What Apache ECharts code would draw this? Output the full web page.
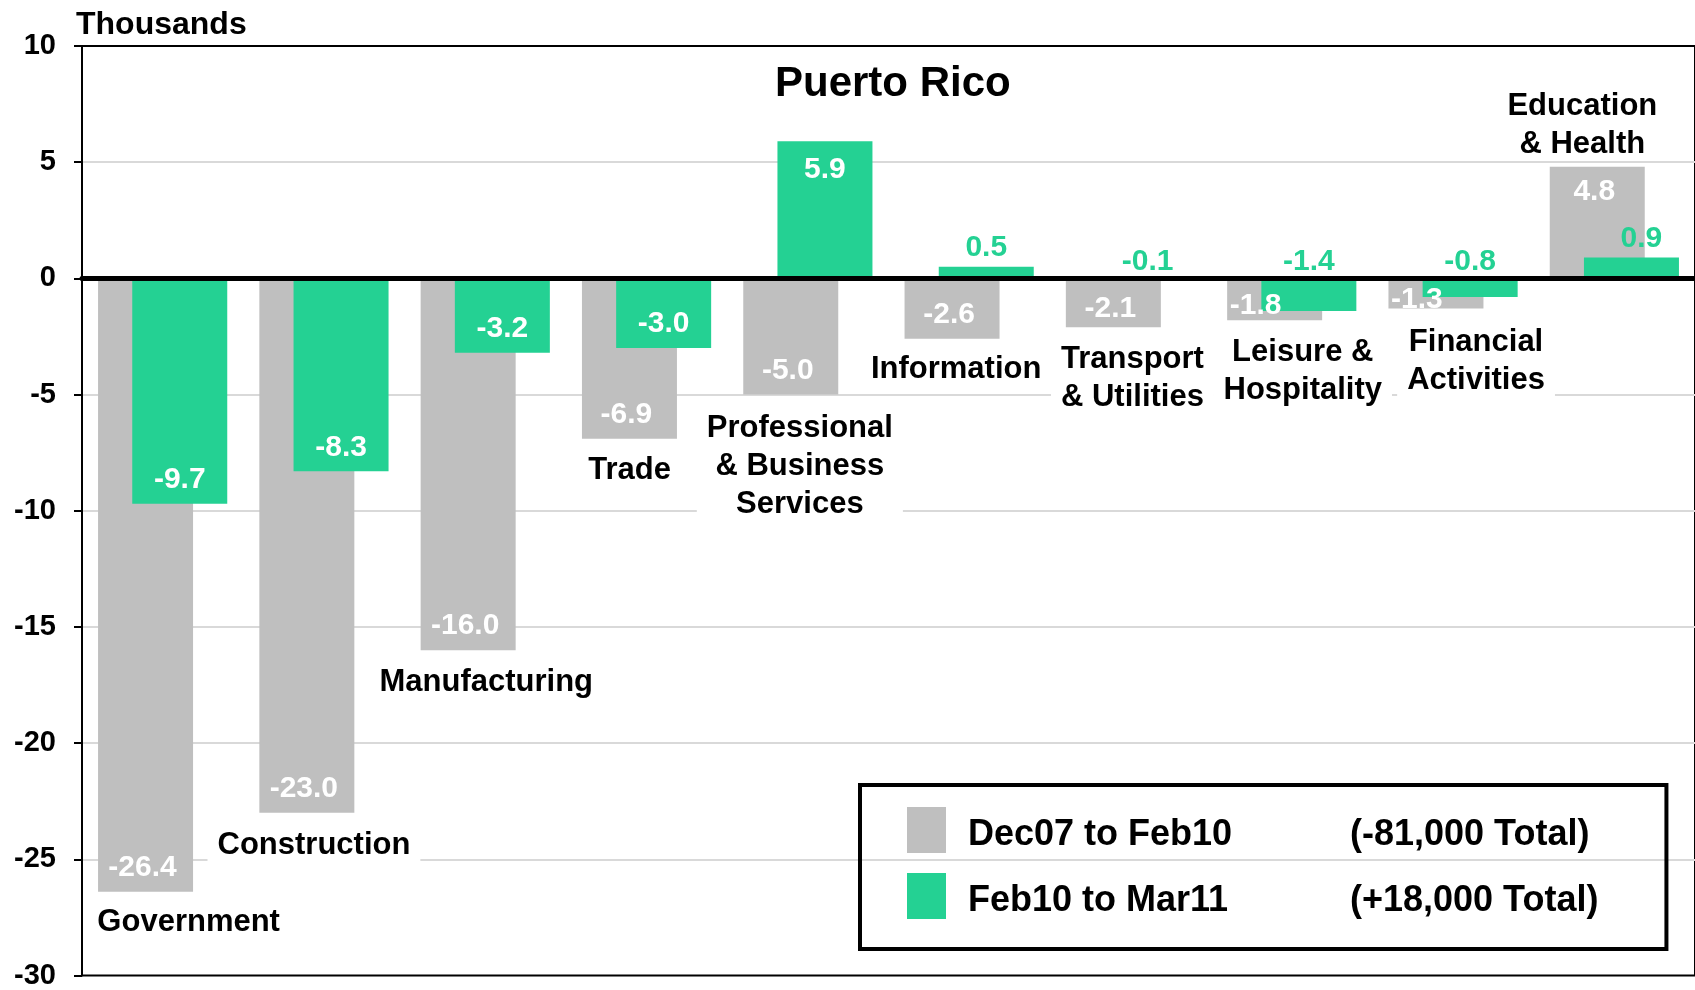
<!DOCTYPE html>
<html>
<head>
<meta charset="utf-8">
<script src="https://cdn.jsdelivr.net/npm/echarts@6/dist/echarts.min.js"></script>
<style>
html,body{margin:0;padding:0;background:#fff;}
#main{width:1695px;height:990px;}
</style>
</head>
<body>
<div id="main"></div>
<script>
const categories = ['Government', 'Construction', 'Manufacturing', 'Trade', 'Professional & Business Services',
    'Information', 'Transport & Utilities', 'Leisure & Hospitality', 'Financial Activities', 'Education & Health'];
const dec07ToFeb10 = [-26.4, -23.0, -16.0, -6.9, -5.0, -2.6, -2.1, -1.8, -1.3, 4.8];
const feb10ToMar11 = [-9.7, -8.3, -3.2, -3.0, 5.9, 0.5, -0.1, -1.4, -0.8, 0.9];
const seriesNames = ['Dec07 to Feb10', 'Feb10 to Mar11'];
const seriesTotals = ['(-81,000 Total)', '(+18,000 Total)'];
const yMin = -30, yMax = 10, yStep = 5;

// category names as they are broken on the chart
const categoryLines = ['Government', 'Construction', 'Manufacturing', 'Trade', 'Professional\n& Business\nServices',
    'Information', 'Transport\n& Utilities', 'Leisure &\nHospitality', 'Financial\nActivities', 'Education\n& Health'];
// where each category name sits: [px shift from category centre, y in axis units]
const categoryLabelPos = [[26, -27.55], [-10, -24.25], [1, -17.2], [-17, -8.1], [-8, -7.94],
    [-13, -3.75], [2, -4.12], [11, -3.82], [23, -3.39], [-32, 6.74]];

const GRAY = '#BFBFBF';
const GREEN = '#24D193';
const FONT = '"Liberation Sans", Arial, sans-serif';

const mainEl = document.querySelector('#main');
const myChart = echarts.init(mainEl);

// value labels: white inside the bar end, small green ones sit outside
function grayItem(v) {
    let label;
    if (v > 0) {
        label = {position: 'insideTop', distance: 10, offset: [-3, 0]};
    } else {
        // short bars keep the label inside the bar, so pull it in
        let d = Math.max(-6, Math.min(9, Math.abs(v) * 11.6 - 21));
        label = {position: 'insideBottom', distance: d, offset: [-3, 0]};
        if (Math.abs(v) < 2) label.offset = [-19, 0];
    }
    return {value: v, label: label};
}

function greenItem(v) {
    let label;
    if (Math.abs(v) < 2) {
        label = {position: 'top', distance: v > 0 ? 4 : 2, color: GREEN};
        if (v > 0.8) label.offset = [10, 0];
    } else if (v > 0) {
        label = {position: 'insideTop', distance: 13};
    } else {
        label = {position: 'insideBottom', distance: 9};
    }
    return {value: v, label: label};
}

const valueLabel = {
    show: true,
    color: '#fff',
    fontFamily: FONT,
    fontWeight: 'bold',
    fontSize: 30,
    lineHeight: 30,
    formatter: p => p.value.toFixed(1)
};

let option = {
    animation: false,
    title: [
        {
            text: 'Puerto Rico',
            left: 775,
            top: 63,
            padding: 0,
            textStyle: {fontFamily: FONT, fontWeight: 'bold', fontSize: 42, color: '#000', lineHeight: 42}
        },
        {
            text: 'Thousands',
            left: 76,
            top: 9,
            padding: 0,
            textStyle: {fontFamily: FONT, fontWeight: 'bold', fontSize: 32, color: '#000', lineHeight: 32}
        }
    ],
    grid: {
        left: 82,
        top: 46,
        width: 1620,
        bottom: 12,
        show: true,
        borderColor: '#000',
        borderWidth: 2
    },
    legend: {
        left: 860,
        top: 785,
        orient: 'vertical',
        icon: 'rect',
        itemWidth: 39,
        itemHeight: 46,
        itemGap: 20,
        selectedMode: false,
        borderColor: '#000',
        borderWidth: 4,
        padding: [22, 68, 30, 47],
        data: seriesNames,
        formatter: name => '{n|' + name + '}{t|' + seriesTotals[seriesNames.indexOf(name)] + '}',
        textStyle: {
            fontFamily: FONT,
            fontWeight: 'bold',
            fontSize: 36,
            color: '#000',
            rich: {
                n: {width: 382, padding: [10, 0, 0, 17], fontFamily: FONT, fontWeight: 'bold', fontSize: 36, color: '#000'},
                t: {padding: [10, 0, 0, 0], fontFamily: FONT, fontWeight: 'bold', fontSize: 36, color: '#000'}
            }
        }
    },
    xAxis: {
        type: 'category',
        data: categories,
        z: 10,
        axisLine: {onZero: true, lineStyle: {color: '#000', width: 5}},
        axisTick: {show: false},
        axisLabel: {show: false}
    },
    yAxis: {
        type: 'value',
        min: yMin,
        max: yMax,
        interval: yStep,
        axisLine: {show: true, lineStyle: {color: '#000', width: 2}},
        axisTick: {show: true, length: 8, lineStyle: {color: '#000', width: 2}},
        axisLabel: {fontFamily: FONT, fontWeight: 'bold', fontSize: 29, color: '#000', margin: 26},
        splitLine: {show: true, showMinLine: false, showMaxLine: false, lineStyle: {color: '#D9D9D9', width: 2}}
    },
    series: [
        {
            name: seriesNames[0],
            type: 'bar',
            data: dec07ToFeb10.map(grayItem),
            barWidth: 95,
            barGap: '-64%',
            itemStyle: {color: GRAY},
            label: valueLabel
        },
        {
            name: seriesNames[1],
            type: 'bar',
            data: feb10ToMar11.map(greenItem),
            barWidth: 95,
            barGap: '-64%',
            itemStyle: {color: GREEN},
            label: valueLabel
        }
    ]
};

myChart.setOption(option);

// category names, placed through the chart's own axes
let graphics = categoryLines.map((txt, i) => {
    let pt = myChart.convertToPixel({xAxisIndex: 0, yAxisIndex: 0}, [i, categoryLabelPos[i][1]]);
    let below = categoryLabelPos[i][1] < 0;
    return {
        type: 'text',
        x: pt[0] + categoryLabelPos[i][0],
        y: pt[1] + 4,
        z: 5,
        style: {
            text: txt,
            font: 'bold 31px ' + FONT,
            fill: '#000',
            align: 'center',
            verticalAlign: 'middle',
            lineHeight: 38,
            // names under the zero line hide the gridlines behind them
            backgroundColor: below ? '#fff' : null,
            padding: [2, 10]
        }
    };
});
myChart.setOption({graphic: graphics});
</script>
</body>
</html>
